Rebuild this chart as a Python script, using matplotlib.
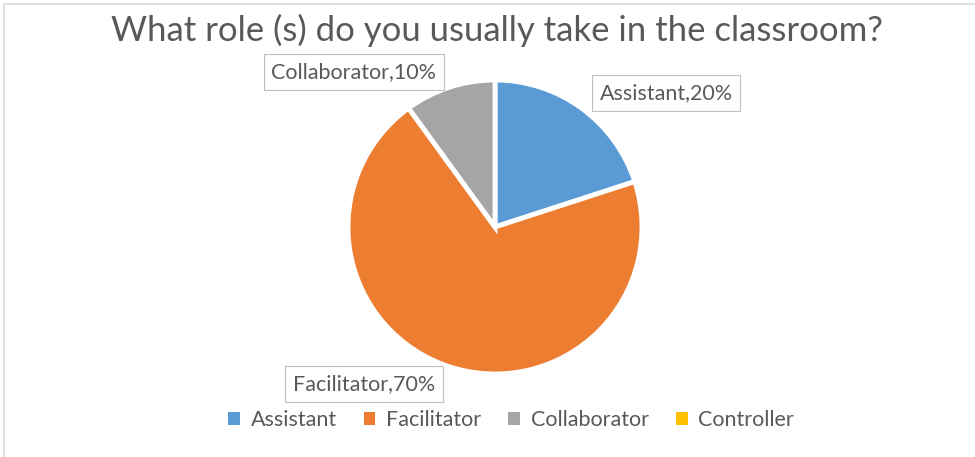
import matplotlib.pyplot as plt
from matplotlib.patches import Patch
from matplotlib.lines import Line2D

roles = ['Assistant', 'Facilitator', 'Collaborator', 'Controller']
shares = [20, 70, 10, 0]
colours = ['#5B9BD5', '#ED7D31', '#A5A5A5', '#FFC000']

W, H = 975, 457
fig = plt.figure(figsize=(W / 100, H / 100), dpi=100)
fig.patch.set_facecolor('white')

# thin frame on the top and left edge
fig.add_artist(Line2D([4 / W, 1], [1 - 4 / H, 1 - 4 / H], color='#D9D9D9', lw=1.2))
fig.add_artist(Line2D([4 / W, 4 / W], [0, 1 - 4 / H], color='#D9D9D9', lw=1.2))

grey = '#595959'
font = 'Lato'

fig.text(497 / W, 1 - 30 / H, 'What role (s) do you usually take in the classroom?',
         ha='center', va='center', fontsize=25, color=grey, family=font)

# pie axes, square box in pixels around the centre
cx, cy, r = 495, 227, 147
box = 170
ax = fig.add_axes([(cx - box) / W, (H - cy - box) / H, 2 * box / W, 2 * box / H])

vals = [v for v in shares if v > 0]
cols = [c for v, c in zip(shares, colours) if v > 0]
ax.pie(vals, colors=cols, startangle=90, counterclock=False, radius=1,
       wedgeprops=dict(edgecolor='white', linewidth=3.5))
ax.set_xlim(-box / r, box / r)
ax.set_ylim(-box / r, box / r)
ax.set_aspect('equal')
ax.axis('off')

# data labels in boxed callouts
label_pos = {'Assistant': (666, 93), 'Facilitator': (364, 384), 'Collaborator': (354, 72)}
for role, v in zip(roles, shares):
    if v == 0:
        continue
    x, y = label_pos[role]
    fig.text(x / W, 1 - y / H, f'{role},{v}%', ha='center', va='center',
             fontsize=15.5, color=grey, family=font,
             bbox=dict(boxstyle='square,pad=0.35', fc='white', ec='#BFBFBF', lw=0.8))

handles = [Patch(facecolor=c, edgecolor='none') for c in colours]
fig.legend(handles, roles, loc='center', bbox_to_anchor=(511 / W, 1 - 420 / H),
           ncol=4, frameon=False, labelcolor=grey,
           prop=dict(family=font, size=15.5), handlelength=0.55, handleheight=0.55,
           handletextpad=0.5, columnspacing=1.25)

fig.savefig('out.png', dpi=100, facecolor='white')
